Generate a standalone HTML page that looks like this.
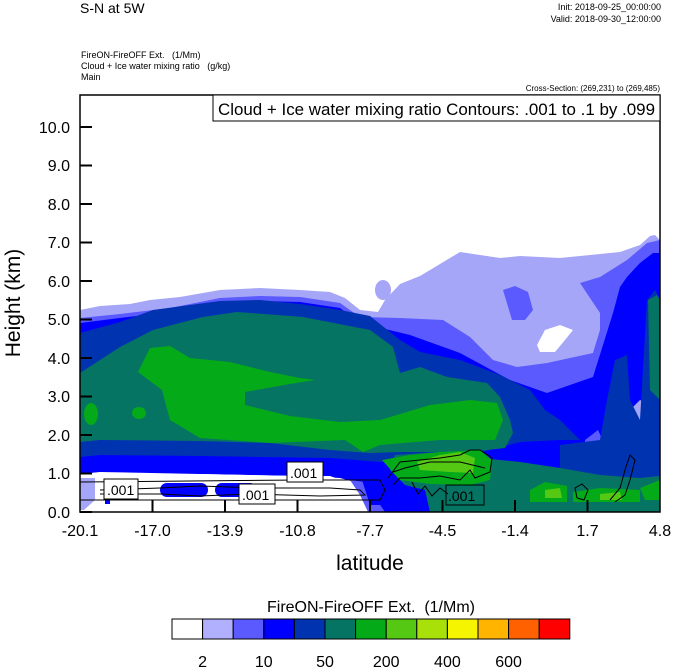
<!DOCTYPE html>
<html><head><meta charset="utf-8"><style>
html,body{margin:0;padding:0;background:#fff;}
svg{display:block;font-family:"Liberation Sans",sans-serif;}
text{white-space:pre;}
</style></head><body>
<svg width="674" height="668" viewBox="0 0 674 668" xmlns="http://www.w3.org/2000/svg">
<text x="80" y="13" font-size="14">S-N at 5W</text>
<text x="661" y="10" font-size="9" text-anchor="end">Init: 2018-09-25_00:00:00</text>
<text x="661" y="22" font-size="9" text-anchor="end">Valid: 2018-09-30_12:00:00</text>
<text x="81" y="58" font-size="9">FireON-FireOFF Ext.   (1/Mm)</text>
<text x="81" y="69" font-size="9">Cloud + Ice water mixing ratio   (g/kg)</text>
<text x="81" y="80" font-size="9">Main</text>
<text x="660" y="91" font-size="8" text-anchor="end">Cross-Section: (269,231) to (269,485)</text>
<defs><clipPath id="c"><rect x="80" y="95" width="580" height="417"/></clipPath></defs>
<g clip-path="url(#c)">
<polygon fill="#a6a6f8" points="80,310 100,306 130,304 150,300 180,297 220,290 260,288 300,290 330,292 345,298 360,310 378,312 385,300 400,284 420,276 440,264 460,252 480,255 500,258 520,256 560,258 590,255 620,252 640,245 650,236 655,235 660,240 660,512 370,512 360,485 330,472 300,472 200,469 100,468 80,470"/>
<ellipse cx="383" cy="290" rx="8" ry="10" fill="#a6a6f8"/>
<polygon fill="#5a5aff" points="80,318 120,314 170,308 220,298 260,296 300,297 340,303 360,317 400,318 443,320 470,337 493,360 517,367 547,363 593,353 600,330 600,313 580,283 600,277 627,260 647,243 660,240 660,512 376,512 365,488 330,474 300,474 200,471 100,470 80,472"/>
<polygon fill="#5a5aff" points="503,290 515,286 528,292 533,310 525,320 512,320"/>
<polygon fill="#ffffff" points="537,345 545,330 560,325 573,330 565,340 555,352 540,352"/>
<polygon fill="#0000ff" points="80,323 120,318 170,312 220,303 260,301 300,302 340,308 360,323 410,335 460,353 510,380 547,393 593,377 613,313 620,287 627,277 640,263 653,253 660,253 660,512 385,512 370,490 330,476 300,476 200,474 100,472 80,474"/>
<polygon fill="#a6a6f8" points="605,420 615,405 625,410 628,440 618,455 607,450"/>
<polygon fill="#a6a6f8" points="630,410 640,400 652,405 655,440 645,455 632,445"/>
<polygon fill="#ffffff" points="655,380 660,375 660,470 652,460"/>
<polygon fill="#5a5aff" points="585,440 598,430 605,445 595,460 585,458"/>
<polygon fill="#0033b0" points="80,333 120,322 153,310 220,301 260,300 300,304 340,310 370,316 400,340 420,352 460,360 500,375 530,390 545,410 560,420 580,440 560,440 520,442 470,455 420,460 380,462 330,458 200,456 100,455 80,457"/>
<polygon fill="#0033b0" points="560,445 600,440 607,400 615,360 627,355 630,400 640,420 647,300 655,290 660,300 660,470 640,470 600,470 560,460"/>
<polygon fill="#0033b0" points="560,460 660,455 660,512 560,512"/>
<polygon fill="#067463" points="80,373 100,360 120,347 153,330 203,317 237,312 303,317 370,330 393,347 400,373 420,367 447,377 487,383 500,397 510,420 513,433 505,448 470,452 400,452 370,453 330,450 270,443 200,441 100,440 80,442"/>
<polygon fill="#067463" points="395,455 440,452 480,458 520,462 560,468 600,475 640,478 660,476 660,512 430,512 425,490 405,485 390,470"/>
<polygon fill="#067463" points="648,300 657,295 660,300 660,400 650,390"/>
<polygon fill="#05aa19" points="138,372 150,348 170,346 190,358 230,362 270,372 300,378 315,380 290,384 245,392 245,405 290,416 340,422 380,420 430,405 470,400 497,403 503,420 495,440 440,440 380,445 363,452 345,440 270,443 200,438 170,420 162,390"/>
<ellipse cx="91" cy="414" rx="7" ry="11" fill="#05aa19"/>
<ellipse cx="139" cy="413" rx="7" ry="6" fill="#05aa19"/>
<polygon fill="#05aa19" points="382,460 410,455 440,452 480,450 492,460 490,480 470,485 430,484 400,480"/>
<polygon fill="#05aa19" points="530,490 545,482 567,486 567,502 530,502"/>
<polygon fill="#05aa19" points="573,492 600,488 640,490 640,502 573,502"/>
<polygon fill="#05aa19" points="640,488 660,480 660,500 645,500"/>
<polygon fill="#55c814" points="417,462 440,455 460,452 475,458 473,473 450,472 420,470"/>
<polygon fill="#55c814" points="545,490 560,488 562,498 545,498"/>
<polygon fill="#55c814" points="600,494 620,492 622,500 600,500"/>
<polygon fill="#ffffff" points="80,476 200,474 300,476 340,478 362,484 370,500 375,512 80,512"/>
<polygon fill="#a6a6f8" points="80,478 95,478 95,500 84,510 80,510"/>
<polygon fill="#5a5aff" points="350,480 365,482 378,500 382,512 368,512 360,495"/>
<polygon fill="#0000ff" points="362,480 380,482 385,505 370,505"/>
<rect x="160" y="483" width="48" height="14" rx="7" fill="#0000ff"/>
<rect x="215" y="483" width="42" height="14" rx="7" fill="#0000ff"/>
<rect x="105" y="496" width="5" height="8" fill="#0000ff"/>
<g fill="none" stroke="#000" stroke-width="1">
<polyline points="80,482 300,480 380,480 385,490 380,500 80,500"/>
<polyline points="100,490 160,488 200,486 260,488 330,488 360,490 365,495 320,496 250,494 200,496 160,494 100,494"/>
<polyline points="388,478 400,462 440,458 460,455 470,450 480,450 492,458 490,472 475,478 470,470 460,480 440,476 420,478 400,478 393,485"/>
<polyline points="393,472 405,468 430,462 460,462 485,468"/>
<polyline points="412,482 418,494 425,486 432,496 440,488 448,494"/>
<polyline points="577,498 575,488 582,484 588,490 584,500 577,498"/>
<polyline points="610,500 620,488 625,470 630,455 635,460 630,480 625,495 615,502"/>
</g>
</g>
<rect x="80" y="95" width="580" height="417" fill="none" stroke="#000" stroke-width="1.5"/>
<rect x="213" y="95" width="447" height="26" fill="#fff" stroke="#000" stroke-width="1"/>
<text x="218" y="115" font-size="17" textLength="437" lengthAdjust="spacingAndGlyphs">Cloud + Ice water mixing ratio Contours: .001 to .1 by .099</text>
<g font-size="14" fill="#000">
<rect x="104" y="479" width="34" height="20" fill="#fff" stroke="#000"/><text x="107" y="495">.001</text>
<rect x="239" y="484" width="36" height="20" fill="#fff" stroke="#000"/><text x="242" y="500">.001</text>
<rect x="287" y="462" width="36" height="20" fill="#fff" stroke="#000"/><text x="290" y="478">.001</text>
<rect x="446" y="485" width="38" height="20" fill="none" stroke="#000"/><text x="448" y="501">.001</text>
</g>
<g stroke="#000" stroke-width="2">
<line x1="80" y1="512" x2="92" y2="512"/><line x1="80" y1="473.5" x2="92" y2="473.5"/><line x1="80" y1="435" x2="92" y2="435"/><line x1="80" y1="396.5" x2="92" y2="396.5"/><line x1="80" y1="358" x2="92" y2="358"/><line x1="80" y1="319.5" x2="92" y2="319.5"/><line x1="80" y1="281" x2="92" y2="281"/><line x1="80" y1="242.5" x2="92" y2="242.5"/><line x1="80" y1="204" x2="92" y2="204"/><line x1="80" y1="165.5" x2="92" y2="165.5"/><line x1="80" y1="127" x2="92" y2="127"/>
<line x1="152.5" y1="512" x2="152.5" y2="500"/><line x1="225" y1="512" x2="225" y2="500"/><line x1="297.5" y1="512" x2="297.5" y2="500"/><line x1="370" y1="512" x2="370" y2="500"/><line x1="442.5" y1="512" x2="442.5" y2="500"/><line x1="515" y1="512" x2="515" y2="500"/><line x1="587.5" y1="512" x2="587.5" y2="500"/>
</g>
<g font-size="16" text-anchor="end">
<text x="70" y="518">0.0</text><text x="70" y="479">1.0</text><text x="70" y="441">2.0</text><text x="70" y="402">3.0</text><text x="70" y="364">4.0</text><text x="70" y="325">5.0</text><text x="70" y="287">6.0</text><text x="70" y="248">7.0</text><text x="70" y="210">8.0</text><text x="70" y="171">9.0</text><text x="70" y="133">10.0</text>
</g>
<g font-size="16" text-anchor="middle">
<text x="80" y="536">-20.1</text><text x="152.5" y="536">-17.0</text><text x="225" y="536">-13.9</text><text x="297.5" y="536">-10.8</text><text x="370" y="536">-7.7</text><text x="442.5" y="536">-4.5</text><text x="515" y="536">-1.4</text><text x="587.5" y="536">1.7</text><text x="660" y="536">4.8</text>
</g>
<text x="370" y="570" font-size="21" text-anchor="middle">latitude</text>
<text transform="translate(20,303) rotate(-90)" font-size="21" text-anchor="middle">Height (km)</text>
<text x="371" y="612" font-size="16" text-anchor="middle">FireON-FireOFF Ext.  (1/Mm)</text>
<g stroke="#000" stroke-width="1">
<rect x="172" y="619" width="30.6" height="20" fill="#ffffff"/>
<rect x="202.6" y="619" width="30.6" height="20" fill="#b0b0ff"/>
<rect x="233.2" y="619" width="30.6" height="20" fill="#5a5aff"/>
<rect x="263.8" y="619" width="30.6" height="20" fill="#0000ff"/>
<rect x="294.4" y="619" width="30.6" height="20" fill="#0033b0"/>
<rect x="325" y="619" width="30.6" height="20" fill="#067463"/>
<rect x="355.6" y="619" width="30.6" height="20" fill="#05aa19"/>
<rect x="386.2" y="619" width="30.6" height="20" fill="#55c814"/>
<rect x="416.8" y="619" width="30.6" height="20" fill="#a8e00a"/>
<rect x="447.4" y="619" width="30.6" height="20" fill="#f5f500"/>
<rect x="478" y="619" width="30.6" height="20" fill="#ffb400"/>
<rect x="508.6" y="619" width="30.6" height="20" fill="#ff6000"/>
<rect x="539.2" y="619" width="30.6" height="20" fill="#ff0000"/>
</g>
<g font-size="16" text-anchor="middle">
<text x="202.6" y="667">2</text><text x="263.8" y="667">10</text><text x="325" y="667">50</text><text x="386.2" y="667">200</text><text x="447.4" y="667">400</text><text x="508.6" y="667">600</text>
</g>
</svg>
</body></html>
